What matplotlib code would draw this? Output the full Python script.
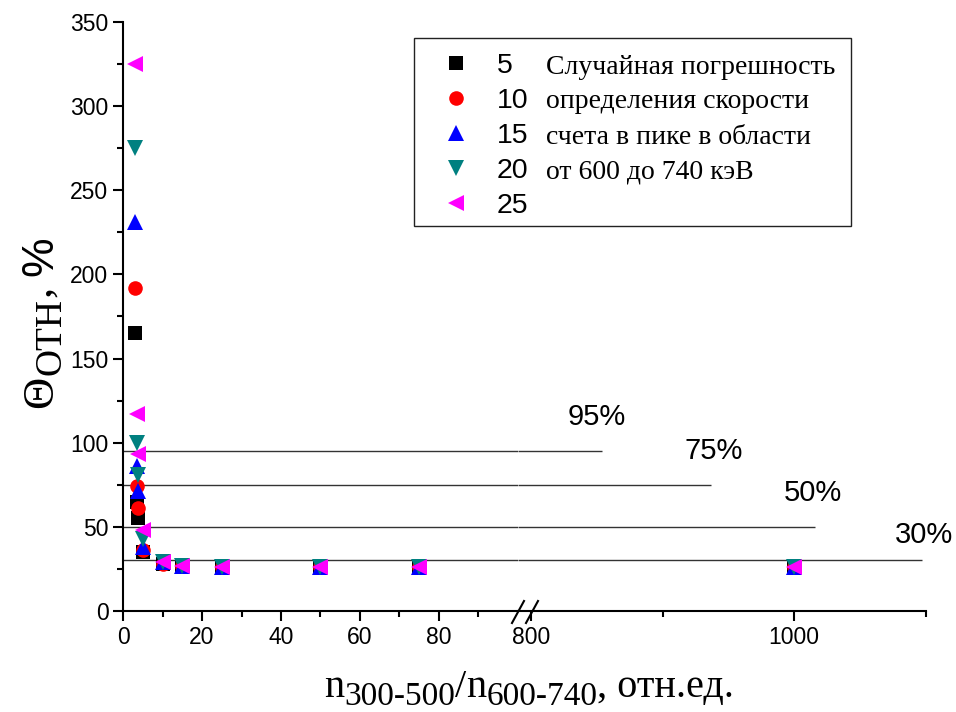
import matplotlib
matplotlib.use('Agg')
import matplotlib.pyplot as plt
from matplotlib.lines import Line2D
from matplotlib.patches import Rectangle
import numpy as np

plt.rcParams['font.family'] = ['Liberation Sans', 'DejaVu Sans']

# ratio n300-500/n600-740
x_vals = [3, 3.5, 3.7, 5, 10, 15, 25, 50, 75, 1000]

series_labels = ['5', '10', '15', '20', '25']
theta_5 = [165, 65, 55, 35, 28, 27, 26, 26, 26, 26]
theta_10 = [192, 74, 61, 36, 28, 27, 26, 26, 26, 26]
theta_15 = [231, 86, 71, 38, 29, 27, 26, 26, 26, 26]
theta_20 = [275, 100, 81, 43, 29, 27, 26, 26, 26, 26]
theta_25 = [325, 117, 93, 48, 29, 27, 26, 26, 26, 26]
all_series = [theta_5, theta_10, theta_15, theta_20, theta_25]

markers = ['s', 'o', '^', 'v', '<']
msizes = [10, 10.5, 12, 12, 12]
colors = ['black', 'red', 'blue', '#008080', 'magenta']

legend_text = ['Случайная погрешность', 'определения скорости',
               'счета в пике в области', 'от 600 до 740 кэВ', '']

levels = [95, 75, 50, 30]
level_ends = [854, 937, 1016, 1097]
level_labels = ['95%', '75%', '50%', '30%']
label_pos = [(850, 115), (939, 95), (1014, 70), (1099, 45)]

W, H = 956, 712
fig = plt.figure(figsize=(9.56, 7.12), dpi=100)
ax1 = fig.add_axes([0.1287, 0.1419, 0.4131, 0.8272])
ax2 = fig.add_axes([0.5418, 0.1419, 0.4264, 0.8272])

x = np.array(x_vals)
for ys, m, ms, c, lab in zip(all_series, markers, msizes, colors, series_labels):
    ys = np.array(ys)
    left = x <= 100
    ax1.plot(x[left], ys[left], linestyle='none', marker=m, markersize=ms,
             color=c, markeredgewidth=0, label=lab, clip_on=False, zorder=3)
    ax2.plot(x[~left], ys[~left], linestyle='none', marker=m, markersize=ms,
             color=c, markeredgewidth=0, clip_on=False, zorder=3)

for lv, end in zip(levels, level_ends):
    ax1.axhline(lv, color='#333333', lw=1.0, zorder=1)
    ax2.hlines(lv, 790, end, color='#333333', lw=1.0, zorder=1)
for t, (px, py) in zip(level_labels, label_pos):
    ax2.text(px, py, t, fontsize=21, ha='center', va='center')

ax1.set_xlim(0, 100)
ax2.set_xlim(790, 1100)
for a in (ax1, ax2):
    a.set_ylim(0, 350)
    a.spines['top'].set_visible(False)
    a.spines['right'].set_visible(False)
    a.spines['bottom'].set_linewidth(1.5)
    a.spines['left'].set_linewidth(1.5)
    a.tick_params(which='major', direction='out', length=7, width=1.5, labelsize=16.5)
    a.tick_params(which='minor', direction='out', length=4, width=1.5)
    a.patch.set_alpha(0)

ax1.set_xticks([0, 20, 40, 60, 80])
ax1.set_xticks([10, 30, 50, 70, 90], minor=True)
ax1.set_yticks(np.arange(0, 351, 50))
ax1.set_yticks(np.arange(25, 350, 50), minor=True)

ax2.spines['left'].set_visible(False)
ax2.tick_params(axis='y', which='both', left=False, labelleft=False)
ax2.set_xticks([800, 1000])
ax2.set_xticks([900, 1100], minor=True)

# axis break marks
for x0 in (512, 526):
    fig.add_artist(Line2D([x0 / W, (x0 + 12) / W], [1 - 623 / H, 1 - 601 / H],
                          color='black', lw=1.5))

# legend
leg = ax1.legend(loc='upper left', bbox_to_anchor=(442 / W, 1 - 53 / H),
                 bbox_transform=fig.transFigure, frameon=False, fontsize=20.5,
                 handlelength=1.0, handletextpad=0.93, labelspacing=0.32,
                 borderpad=0, borderaxespad=0)
fig.add_artist(Rectangle((414 / W, 1 - 226 / H), 437 / W, 188 / H,
                         transform=fig.transFigure, fill=False,
                         edgecolor='#222222', lw=1.0))
for i, t in enumerate(legend_text):
    fig.text(546 / W, 1 - (67 + 35 * i) / H, t, fontsize=20,
             family='Liberation Serif', va='center')


def label_pieces(pieces, center, base, vertical=False):
    # pieces: (text, size, shift down in px, family); laid out one after another
    r = fig.canvas.get_renderer()
    texts, lens = [], []
    for txt, size, shift, fam in pieces:
        t = fig.text(0, 0, txt, fontsize=size, family=fam, ha='left',
                     va='baseline', rotation=90 if vertical else 0,
                     rotation_mode='anchor')
        bb = t.get_window_extent(r)
        texts.append((t, shift))
        lens.append(bb.height if vertical else bb.width)
    pos = center - sum(lens) / 2
    for (t, shift), ln in zip(texts, lens):
        if vertical:
            t.set_position(((base + shift) / W, pos / H))
        else:
            t.set_position((pos / W, (base - shift) / H))
        pos += ln


serif = 'Liberation Serif'
label_pieces([('n', 29, 0, serif), ('300-500', 24, 8, serif), ('/', 29, 0, serif),
              ('n', 29, 0, serif), ('600-740', 24, 8, serif),
              (', отн.ед.', 29, 0, serif)],
             center=529, base=H - 697)
label_pieces([('Θ', 32, 0, serif), ('ОТН', 27, 9, serif), (', ', 32, 0, serif),
              ('%', 32, 0, 'Liberation Sans')],
             center=H - 322, base=52, vertical=True)

fig.savefig('out.png', dpi=100)
